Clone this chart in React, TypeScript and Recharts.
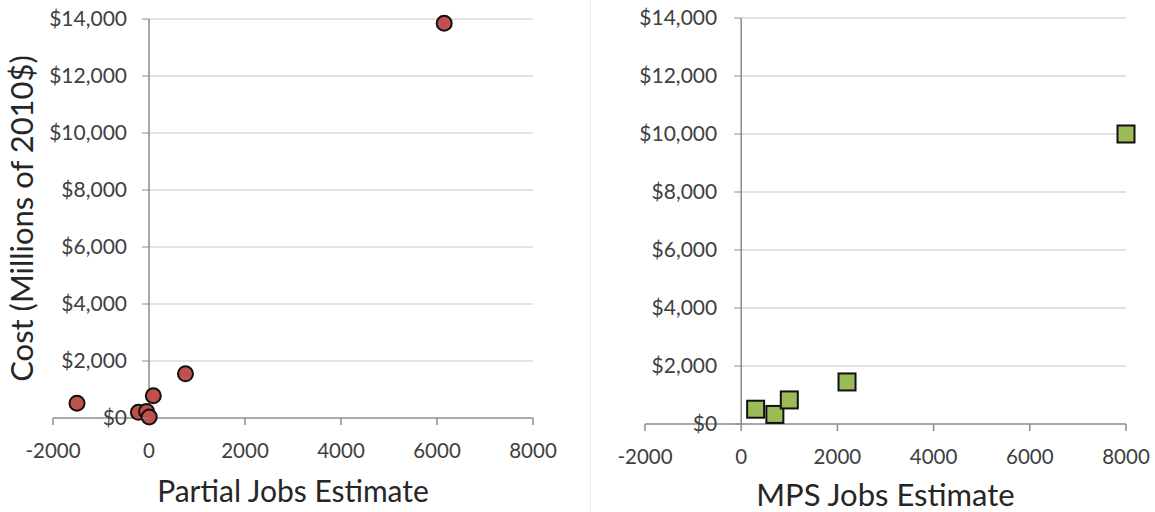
import { ScatterChart, Scatter, XAxis, YAxis, ReferenceLine } from 'recharts';

// Jobs estimate (x) vs cost in millions of 2010$ (y)
const PARTIAL_JOBS = [6150, 760, 90, -1500, -220, -50, 5];
const PARTIAL_COST = [13850, 1550, 780, 520, 200, 230, 35];

const MPS_JOBS = [300, 700, 1000, 2200, 8000];
const MPS_COST = [510, 330, 830, 1450, 10000];

const X_TICKS = [-2000, 0, 2000, 4000, 6000, 8000];
const Y_TICKS = [0, 2000, 4000, 6000, 8000, 10000, 12000, 14000];
const X_DOMAIN: [number, number] = [-2000, 8000];
const Y_DOMAIN: [number, number] = [0, 14000];

const FONT = 'Lato, "Open Sans", sans-serif';
const AXIS = '#8c8c8c';
const GRID = '#d9d9d9';
const TICK_TEXT = '#404040';
const TITLE_TEXT = '#262626';

const partialData = PARTIAL_JOBS.map((x, i) => ({ x, y: PARTIAL_COST[i] }));
const mpsData = MPS_JOBS.map((x, i) => ({ x, y: MPS_COST[i] }));

const fmtCost = (v: number) => `$${v.toLocaleString('en-US')}`;

// rotated value-axis title; ignores the props Recharts hands to labels
function YTitle({ text, cx, cy }: { text: string; cx: number; cy: number }) {
    return (
        <text transform={`translate(${cx}, ${cy}) rotate(-90)`} x={0} y={0} textAnchor="middle" fill={TITLE_TEXT} fontSize={31} fontFamily={FONT}>
            {text}
        </text>
    );
}

interface PanelProps {
    data: { x: number; y: number }[];
    width: number;
    top: number;
    right: number;
    yAxisWidth: number;
    xAxisHeight: number;
    labelGap: number;
    xTitle: string;
    xTitleOffset: number;
    xTitleSize: number;
    yTitle?: string;
    shape: (p: any) => JSX.Element;
}

function Panel({ data, width, top, right, yAxisWidth, xAxisHeight, labelGap, xTitle, xTitleOffset, xTitleSize, yTitle, shape }: PanelProps) {
    const height = 512;
    const plotW = width - yAxisWidth - right;
    // pixel column of the x = 0 crossing, where Excel puts the value axis
    const axisPx = yAxisWidth + ((0 - X_DOMAIN[0]) / (X_DOMAIN[1] - X_DOMAIN[0])) * plotW;
    const plotMidY = top + (height - top - xAxisHeight) / 2;

    const yTick = (p: any) => (
        <g>
            <line x1={axisPx - 7} x2={axisPx} y1={p.y} y2={p.y} stroke={AXIS} strokeWidth={1} />
            <text x={axisPx - labelGap} y={p.y} dy="0.35em" textAnchor="end" fill={TICK_TEXT} fontSize={21} fontFamily={FONT}>
                {fmtCost(p.payload.value)}
            </text>
        </g>
    );

    const yTitleEl = yTitle ? (props: any) => <YTitle text={yTitle} cx={33} cy={plotMidY} /> : undefined;

    return (
        <ScatterChart width={width} height={height} margin={{ top, right, bottom: 0, left: 0 }}>
            {Y_TICKS.filter(v => v > 0).map(v => (
                <ReferenceLine key={v} segment={[{ x: 0, y: v }, { x: X_DOMAIN[1], y: v }]} stroke={GRID} strokeWidth={1.5} />
            ))}
            <ReferenceLine segment={[{ x: 0, y: Y_DOMAIN[0] }, { x: 0, y: Y_DOMAIN[1] }]} stroke={AXIS} strokeWidth={1.5} />
            <XAxis
                type="number"
                dataKey="x"
                domain={X_DOMAIN}
                ticks={X_TICKS}
                interval={0}
                height={xAxisHeight}
                tickSize={7}
                tickMargin={18}
                axisLine={{ stroke: AXIS, strokeWidth: 1.5 }}
                tickLine={{ stroke: AXIS, strokeWidth: 1.5 }}
                tick={{ fill: TICK_TEXT, fontSize: 20.5, fontFamily: FONT }}
                label={{ value: xTitle, position: 'insideBottom', offset: xTitleOffset, fill: TITLE_TEXT, fontSize: xTitleSize, fontFamily: FONT }}
            />
            <YAxis
                type="number"
                dataKey="y"
                domain={Y_DOMAIN}
                ticks={Y_TICKS}
                interval={0}
                width={yAxisWidth}
                axisLine={false}
                tickLine={false}
                tick={yTick}
                label={yTitleEl ? { content: yTitleEl } : undefined}
            />
            <Scatter data={data} shape={shape} isAnimationActive={false} />
        </ScatterChart>
    );
}

const circle = (p: any) => <circle cx={p.cx} cy={p.cy} r={7.5} fill="#C0504D" stroke="#111" strokeWidth={2} />;
const square = (p: any) => <rect x={p.cx - 8.5} y={p.cy - 8.5} width={17} height={17} fill="#9BBB59" stroke="#111" strokeWidth={2} />;

export default function App() {
    return (
        <div style={{ position: 'absolute', left: 0, top: 0, width: 1155, height: 512, background: '#fff' }}>
            <div style={{ position: 'absolute', left: 0, top: 0 }}>
                <Panel
                    data={partialData}
                    width={560}
                    top={19}
                    right={27}
                    yAxisWidth={53}
                    xAxisHeight={94}
                    labelGap={22}
                    xTitle="Partial Jobs Estimate"
                    xTitleOffset={10}
                    xTitleSize={30}
                    yTitle="Cost (Millions of 2010$)"
                    shape={circle}
                />
            </div>
            <div style={{ position: 'absolute', left: 590, top: 0, width: 1, height: 512, background: '#eeeeee' }} />
            <div style={{ position: 'absolute', left: 580, top: 0 }}>
                <Panel
                    data={mpsData}
                    width={575}
                    top={18}
                    right={29}
                    yAxisWidth={65}
                    xAxisHeight={88}
                    labelGap={24}
                    xTitle="MPS Jobs Estimate"
                    xTitleOffset={6}
                    xTitleSize={31}
                    shape={square}
                />
            </div>
        </div>
    );
}
